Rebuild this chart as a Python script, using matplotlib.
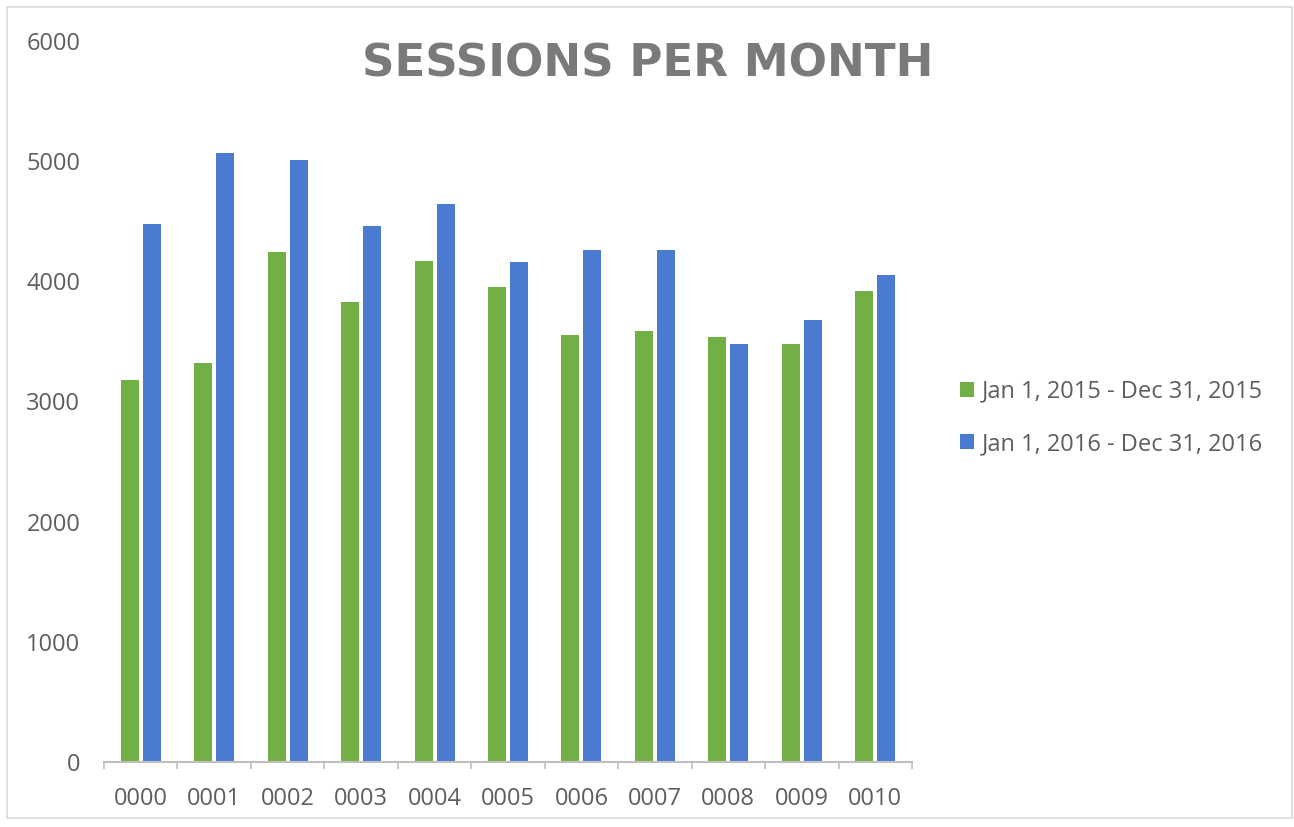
import matplotlib
matplotlib.use("Agg")
import matplotlib.pyplot as plt
import numpy as np
from matplotlib.patches import Rectangle

categories = ["0000", "0001", "0002", "0003", "0004", "0005", "0006", "0007", "0008", "0009", "0010"]
series_2015 = [3180, 3320, 4240, 3830, 4170, 3950, 3550, 3590, 3540, 3480, 3920]
series_2016 = [4480, 5070, 5010, 4460, 4640, 4160, 4260, 4260, 3480, 3680, 4050]
labels = ["Jan 1, 2015 - Dec 31, 2015", "Jan 1, 2016 - Dec 31, 2016"]
yticks = [0, 1000, 2000, 3000, 4000, 5000, 6000]

GREEN = "#72B046"
BLUE = "#4A7BD0"
TEXT = "#5E5E5E"
FONT = "Open Sans"
FS = 17

W, H = 1294, 827
fig = plt.figure(figsize=(W / 100, H / 100), dpi=100)
fig.patch.set_facecolor("white")
fig.patches.append(Rectangle((7 / W, 1 - 818 / H), (1292 - 7) / W, (818 - 7) / H,
                             transform=fig.transFigure, fill=False,
                             edgecolor="#D9D9D9", linewidth=1.2))

ax = fig.add_axes([104 / W, 1 - 762 / H, (912 - 104) / W, (762 - 41) / H])
x = np.arange(len(categories))
bw = 0.245
off = 0.15
ax.bar(x - off, series_2015, width=bw, color=GREEN, label=labels[0])
ax.bar(x + off, series_2016, width=bw, color=BLUE, label=labels[1])

ax.set_xlim(-0.5, len(categories) - 0.5)
ax.set_ylim(0, 6000)
ax.set_yticks(yticks)
ax.set_yticklabels([str(v) for v in yticks], fontfamily=FONT, fontsize=FS, color=TEXT)
ax.set_xticks(x)
ax.set_xticklabels(categories, fontfamily=FONT, fontsize=FS, color=TEXT)
ax.tick_params(axis="x", which="major", length=0, pad=18)
ax.set_xticks(np.arange(-0.5, len(categories), 1.0), minor=True)
ax.tick_params(axis="x", which="minor", length=5, color="#BFBFBF", width=1.2)
ax.tick_params(axis="y", length=0, pad=17)
for s in ["top", "right", "left"]:
    ax.spines[s].set_visible(False)
ax.spines["bottom"].set_color("#BFBFBF")
ax.spines["bottom"].set_linewidth(1.5)

fig.text(648 / W, 1 - 64 / H, "SESSIONS PER MONTH", ha="center", va="center",
         fontfamily="DejaVu Sans", fontweight="bold", fontsize=32.5, color="#7A7A7A")

leg = fig.legend(loc="center left", bbox_to_anchor=(939 / W, 1 - 418 / H),
                 frameon=False, prop={"family": FONT, "size": FS},
                 handlelength=0.6, handleheight=0.6, handletextpad=0.3,
                 labelspacing=1.2)
for t in leg.get_texts():
    t.set_color(TEXT)

fig.savefig("out.png", dpi=100, facecolor="white")
